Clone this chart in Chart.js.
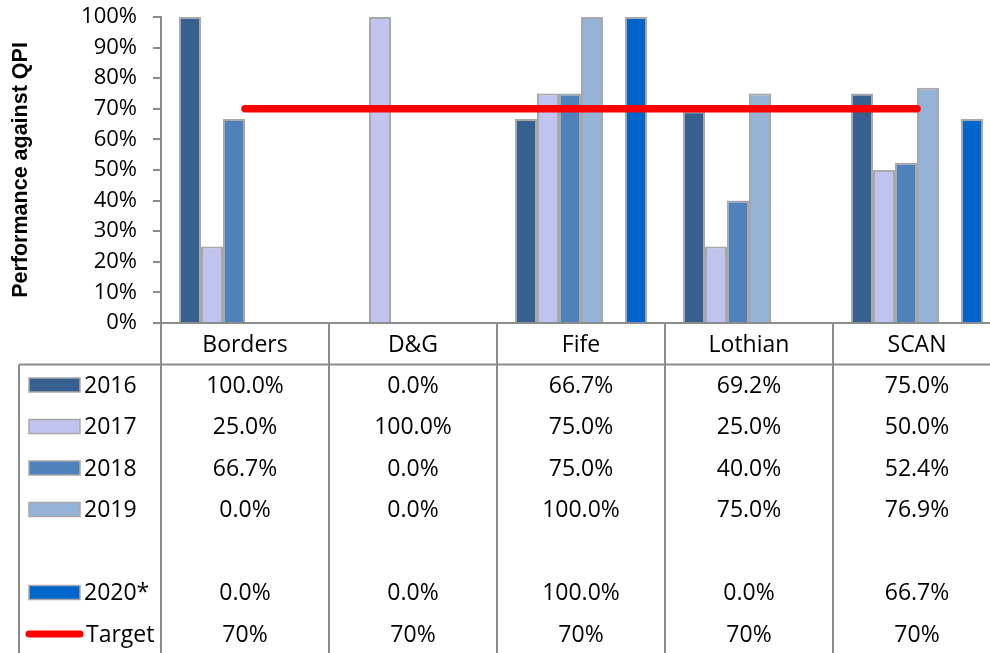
<!DOCTYPE html>
<html>
<head>
<meta charset="utf-8">
<title>Performance against QPI</title>
<script src="https://cdn.jsdelivr.net/npm/chart.js@4/dist/chart.umd.min.js"></script>
<style>
  html, body { margin: 0; padding: 0; background: #ffffff; overflow: hidden; }
  #wrap { width: 1002px; height: 653px; }
</style>
</head>
<body>
<div id="wrap"><canvas id="chart" width="1002" height="653"></canvas></div>
<script>
// Health board regions along the x axis
const regions = ['Borders', 'D&G', 'Fife', 'Lothian', 'SCAN'];

// Performance against QPI (%) per year
const perf2016 = [100.0, 0.0, 66.7, 69.2, 75.0];
const perf2017 = [25.0, 100.0, 75.0, 25.0, 50.0];
const perf2018 = [66.7, 0.0, 75.0, 40.0, 52.4];
const perf2019 = [0.0, 0.0, 100.0, 75.0, 76.9];
const perfBlank = [null, null, null, null, null];   // empty row in the table
const perf2020 = [0.0, 0.0, 100.0, 0.0, 66.7];
const targetLevel = [70, 70, 70, 70, 70];

// Y axis tick range (%)
const yTickMin = 0;
const yTickMax = 100;
const yTickStep = 10;

// Series names as shown in the data table
const seriesNames = ['2016', '2017', '2018', '2019', '', '2020*', 'Target'];

const barColours = ['#36608f', '#c0c4ee', '#4f81bd', '#95b3d7', '#ffffff', '#0066cc'];
const barBorder = '#a8a8a8';
const rule = '#8c8c8c';
const tableFont = '23px "Open Sans", sans-serif';

const barSeries = [perf2016, perf2017, perf2018, perf2019, perfBlank, perf2020];

const datasets = [
  {
    type: 'line',
    label: seriesNames[6],
    data: targetLevel,
    borderColor: '#ff0000',
    borderWidth: 7.5,
    borderCapStyle: 'round',
    pointRadius: 0,
    fill: false,
    order: 0
  }
].concat(barSeries.map((vals, i) => ({
  type: 'bar',
  label: seriesNames[i],
  data: vals,
  backgroundColor: barColours[i],
  borderColor: barBorder,
  borderWidth: 2,
  order: 1
})));

// Draws the data table under the plot: region headers, a row per series
// with its legend key, and the values formatted per cell.
const dataTable = {
  id: 'dataTable',
  afterDraw(chart) {
    const ctx = chart.ctx;
    const xs = chart.scales.x;
    const area = chart.chartArea;
    const bottom = chart.height;
    const tableLeft = 19;
    const headerMid = 345;
    const headerRule = 364.5;
    const firstRow = 386;
    const rowStep = 41.5;
    const n = regions.length;

    const centres = regions.map((_, i) => xs.getPixelForValue(i));
    const edges = [xs.left];
    for (let i = 0; i < n - 1; i++) edges.push((centres[i] + centres[i + 1]) / 2);
    edges.push(xs.right);

    ctx.save();
    ctx.strokeStyle = rule;
    ctx.lineWidth = 2;

    // column dividers (the axis line continues down as the first one)
    ctx.beginPath();
    edges.forEach(x => { ctx.moveTo(x, area.bottom); ctx.lineTo(x, bottom); });
    // left border of the legend column
    ctx.moveTo(tableLeft, headerRule);
    ctx.lineTo(tableLeft, bottom);
    // rule under the region headers
    ctx.moveTo(tableLeft, headerRule);
    ctx.lineTo(xs.right + 2, headerRule);
    ctx.stroke();

    ctx.fillStyle = '#000000';
    ctx.font = tableFont;
    ctx.textBaseline = 'middle';
    ctx.textAlign = 'center';
    regions.forEach((r, i) => ctx.fillText(r, centres[i], headerMid));

    const allSeries = barSeries.concat([targetLevel]);
    allSeries.forEach((vals, row) => {
      const y = firstRow + row * rowStep;
      const name = seriesNames[row];
      if (!name) return;
      // legend key
      if (row === allSeries.length - 1) {
        ctx.strokeStyle = '#ff0000';
        ctx.lineWidth = 7;
        ctx.lineCap = 'round';
        ctx.beginPath();
        ctx.moveTo(29, y - 1);
        ctx.lineTo(80, y - 1);
        ctx.stroke();
        ctx.lineCap = 'butt';
      } else {
        ctx.fillStyle = barColours[row];
        ctx.fillRect(29, y - 8, 51, 14);
        ctx.strokeStyle = barBorder;
        ctx.lineWidth = 1.5;
        ctx.strokeRect(29, y - 8, 51, 14);
      }
      ctx.fillStyle = '#000000';
      ctx.textAlign = 'left';
      ctx.fillText(name, row === allSeries.length - 1 ? 86 : 84, y);
      ctx.textAlign = 'center';
      vals.forEach((v, i) => {
        const txt = row === allSeries.length - 1 ? v.toFixed(0) + '%' : v.toFixed(1) + '%';
        ctx.fillText(txt, centres[i], y);
      });
    });
    ctx.restore();
  }
};

new Chart(document.getElementById('chart'), {
  data: { labels: regions, datasets: datasets },
  options: {
    responsive: false,
    animation: false,
    events: [],
    layout: { padding: { top: 17, bottom: 330, left: 0, right: 1 } },
    datasets: {
      bar: { categoryPercentage: 132 / 168, barPercentage: 1.0 }
    },
    plugins: {
      legend: { display: false },
      tooltip: { enabled: false }
    },
    scales: {
      x: {
        offset: true,
        ticks: { display: false },
        grid: { display: false },
        border: { display: true, color: rule, width: 2 },
        afterFit: s => { s.height = 0; }
      },
      y: {
        min: yTickMin,
        max: yTickMax,
        ticks: {
          stepSize: yTickStep,
          padding: 16,
          color: '#000000',
          font: { family: '"Open Sans", sans-serif', size: 22 },
          callback: v => v + '%'
        },
        grid: {
          drawOnChartArea: false,
          drawTicks: true,
          tickLength: 8,
          color: rule,
          lineWidth: 2
        },
        border: { display: true, color: rule, width: 2 },
        title: {
          display: true,
          text: 'Performance against QPI',
          color: '#000000',
          font: { family: '"Liberation Sans", Arial, sans-serif', size: 21.5, weight: 'bold' },
          padding: { top: 8, bottom: 0 }
        },
        afterFit: s => { s.width = 161; s.paddingTop = 0; s.paddingBottom = 0; }
      }
    }
  },
  plugins: [dataTable]
});
</script>
</body>
</html>
